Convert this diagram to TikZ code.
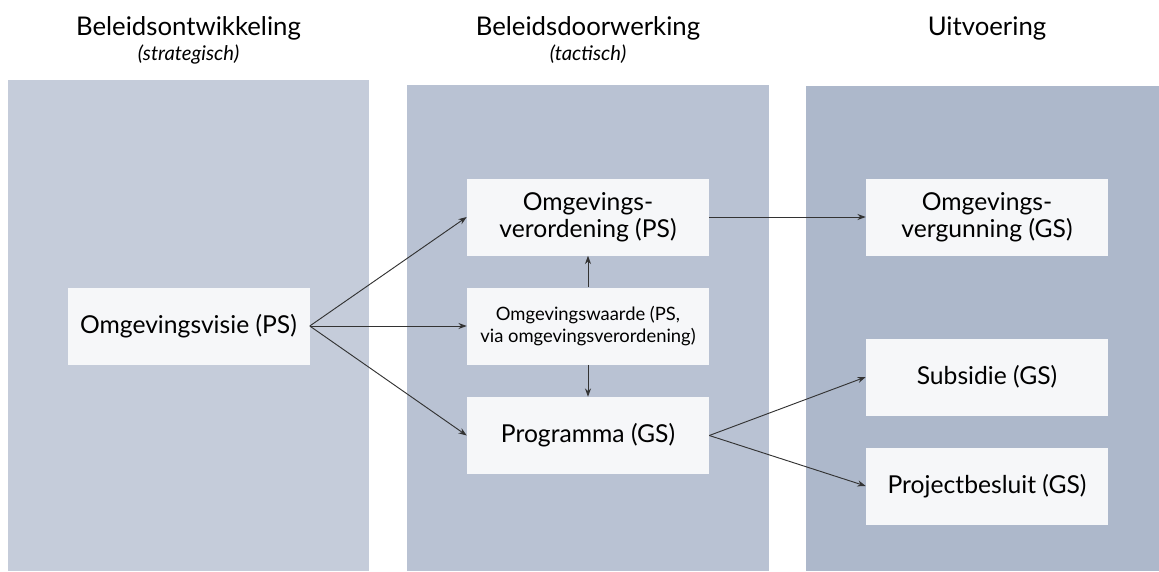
\documentclass[tikz,border=0pt]{standalone}
\usepackage{fontspec}
\setmainfont{Lato}
\usepackage{tikz}
\usetikzlibrary{positioning,arrows.meta}
\usepackage{xcolor}
\definecolor{panelA}{HTML}{C5CCDA}
\definecolor{panelB}{HTML}{B9C2D3}
\definecolor{panelC}{HTML}{ADB8CB}
\definecolor{boxfill}{HTML}{F6F7F9}
\definecolor{arrowgrey}{HTML}{333333}
\tikzset{
  stage/.style={font=\fontsize{19.3}{22}\selectfont,align=center},
  sub/.style={font=\fontsize{15.2}{18}\selectfont\itshape},
  block/.style={fill=boxfill,minimum width=181.5pt,minimum height=57.75pt,inner sep=2pt,align=center,font=\fontsize{18.5}{20.5}\selectfont},
  link/.style={->,draw=arrowgrey,line width=0.7pt}
}

\begin{document}
\begin{tikzpicture}[x=0.75pt,y=-0.75pt,>={Stealth[length=2.2mm,width=1.6mm]}]
\useasboundingbox (0,0) rectangle (1159,571);
\fill[panelA] (8,80) rectangle (369,571);
\fill[panelB] (407,85) rectangle (769,571);
\fill[panelC] (806,86) rectangle (1159,571);
\node[stage] (h1) at (188.5,28) {Beleidsontwikkeling};
\node[sub] (s1) at (188.5,54) {(strategisch)};
\node[stage] (h2) at (588,28) {Beleidsdoorwerking};
\node[sub] (s2) at (588,54) {(tactisch)};
\node[stage] (h3) at (987,28) {Uitvoering};
\node[block] (visie) at (188.5,326) {Omgevingsvisie (PS)};
\node[block] (verord) at (588,217) {Omgevings-\\verordening (PS)};
\node[block,font=\fontsize{13.8}{17}\selectfont] (waarde) at (588,326) {Omgevingswaarde (PS,\\via omgevingsverordening)};
\node[block] (progr) at (588,435.5) {Programma (GS)};
\node[block] (vergun) at (987,217) {Omgevings-\\vergunning (GS)};
\node[block] (subs) at (987,377) {Subsidie (GS)};
\node[block] (proj) at (987,486) {Projectbesluit (GS)};
\draw[link] (visie.east) -- (verord.west);
\draw[link] (visie.east) -- (waarde.west);
\draw[link] (visie.east) -- (progr.west);
\draw[link] (waarde.north) -- (verord.south);
\draw[link] (waarde.south) -- (progr.north);
\draw[link] (verord.east) -- (vergun.west);
\draw[link] (progr.east) -- (subs.west);
\draw[link] (progr.east) -- (proj.west);
\end{tikzpicture}
\end{document}
